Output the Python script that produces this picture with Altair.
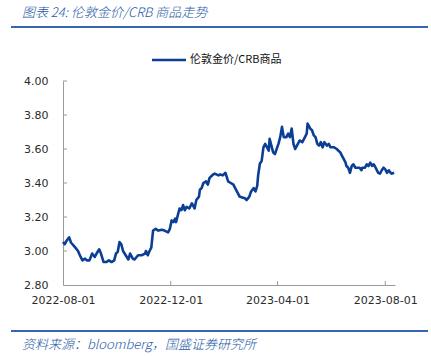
import altair as alt
import pandas as pd

title_text = "图表 24: 伦敦金价/CRB 商品走势"
source_text = "资料来源：bloomberg，国盛证券研究所"
series_name = "伦敦金价/CRB商品"

dates = [
    "2022-08-01", "2022-08-03", "2022-08-05", "2022-08-08", "2022-08-10", "2022-08-15",
    "2022-08-18", "2022-08-21", "2022-08-23", "2022-08-26", "2022-08-28", "2022-08-31",
    "2022-09-03", "2022-09-06", "2022-09-08", "2022-09-11", "2022-09-13", "2022-09-16",
    "2022-09-19", "2022-09-22", "2022-09-25", "2022-09-28", "2022-09-30", "2022-10-02",
    "2022-10-04", "2022-10-06", "2022-10-08", "2022-10-11", "2022-10-14", "2022-10-16",
    "2022-10-19", "2022-10-21", "2022-10-25", "2022-10-29", "2022-11-02", "2022-11-03",
    "2022-11-05", "2022-11-07", "2022-11-09", "2022-11-11", "2022-11-14", "2022-11-17",
    "2022-11-21", "2022-11-24", "2022-11-28", "2022-11-30", "2022-12-02", "2022-12-04",
    "2022-12-06", "2022-12-07", "2022-12-11", "2022-12-13", "2022-12-15", "2022-12-17",
    "2022-12-19", "2022-12-22", "2022-12-25", "2022-12-28", "2022-12-30", "2023-01-02",
    "2023-01-03", "2023-01-05", "2023-01-07", "2023-01-10", "2023-01-12", "2023-01-14",
    "2023-01-18", "2023-01-20", "2023-01-24", "2023-01-26", "2023-01-29", "2023-02-01",
    "2023-02-04", "2023-02-07", "2023-02-10", "2023-02-13", "2023-02-15", "2023-02-17",
    "2023-02-20", "2023-02-23", "2023-02-25", "2023-02-28", "2023-03-02", "2023-03-05",
    "2023-03-07", "2023-03-09", "2023-03-10", "2023-03-12", "2023-03-14", "2023-03-16",
    "2023-03-18", "2023-03-20", "2023-03-22", "2023-03-23", "2023-03-25", "2023-03-27",
    "2023-03-29", "2023-04-02", "2023-04-04", "2023-04-06", "2023-04-08", "2023-04-11",
    "2023-04-13", "2023-04-15", "2023-04-17", "2023-04-19", "2023-04-21", "2023-04-24",
    "2023-04-26", "2023-04-29", "2023-05-01", "2023-05-04", "2023-05-05", "2023-05-08",
    "2023-05-10", "2023-05-12", "2023-05-14", "2023-05-16", "2023-05-18", "2023-05-20",
    "2023-05-22", "2023-05-24", "2023-05-27", "2023-05-29", "2023-05-31", "2023-06-04",
    "2023-06-07", "2023-06-09", "2023-06-11", "2023-06-13", "2023-06-15", "2023-06-17",
    "2023-06-18", "2023-06-20", "2023-06-22", "2023-06-24", "2023-06-26", "2023-06-28",
    "2023-07-01", "2023-07-03", "2023-07-05", "2023-07-06", "2023-07-09", "2023-07-11",
    "2023-07-13", "2023-07-15", "2023-07-17", "2023-07-19", "2023-07-21", "2023-07-22",
    "2023-07-24", "2023-07-26", "2023-07-28", "2023-07-30", "2023-08-01", "2023-08-03",
    "2023-08-05", "2023-08-07", "2023-08-08", "2023-08-11",
]

values = [
    3.053, 3.04, 3.06, 3.08, 3.05, 3.02,
    3.00, 2.965, 2.945, 2.955, 2.945, 2.945,
    2.985, 2.965, 2.985, 3.01, 2.985, 2.935,
    2.935, 2.945, 2.935, 2.945, 2.985, 2.995,
    3.053, 3.04, 3.00, 2.975, 2.95, 2.985,
    2.955, 2.95, 2.975, 2.975, 2.985, 3.00,
    2.975, 3.00, 3.02, 3.12, 3.13, 3.12,
    3.125, 3.12, 3.11, 3.13, 3.18, 3.17,
    3.19, 3.17, 3.25, 3.24, 3.27, 3.24,
    3.26, 3.25, 3.28, 3.25, 3.30, 3.32,
    3.36, 3.37, 3.40, 3.41, 3.39, 3.43,
    3.45, 3.455, 3.445, 3.45, 3.445, 3.46,
    3.41, 3.40, 3.39, 3.36, 3.34, 3.32,
    3.315, 3.31, 3.30, 3.32, 3.35, 3.37,
    3.35, 3.385, 3.445, 3.515, 3.53, 3.61,
    3.63, 3.61, 3.59, 3.66, 3.62, 3.58,
    3.57, 3.63, 3.67, 3.73, 3.67, 3.67,
    3.69, 3.67, 3.72, 3.63, 3.60, 3.63,
    3.65, 3.64, 3.66, 3.69, 3.75, 3.72,
    3.71, 3.68, 3.67, 3.63, 3.62, 3.64,
    3.61, 3.64, 3.62, 3.63, 3.61, 3.61,
    3.60, 3.59, 3.58, 3.56, 3.54, 3.52,
    3.50, 3.49, 3.46, 3.50, 3.51, 3.49,
    3.49, 3.49, 3.475, 3.49, 3.49, 3.51,
    3.50, 3.52, 3.50, 3.51, 3.49, 3.48,
    3.46, 3.455, 3.475, 3.49, 3.48, 3.46,
    3.475, 3.46, 3.455, 3.46,
]

y_ticks = [2.8, 3.0, 3.2, 3.4, 3.6, 3.8, 4.0]
x_ticks = ["2022-08-01", "2022-12-01", "2023-04-01", "2023-08-01"]
x_domain = ["2022-08-01", "2023-08-12"]
y_domain = [2.8, 4.0]

LINE_BLUE = "#0b3f95"
TITLE_BLUE = "#2457a6"
RULE_BLUE = "#3766b0"
AXIS_GRAY = "#9a9a9a"
LABEL_COLOR = "#2b2b2b"
CJK = "Noto Sans CJK SC"
LATIN = "DejaVu Sans"


def dt(s):
    y, m, d = (int(p) for p in s.split("-"))
    return alt.DateTime(year=y, month=m, date=d)


df = pd.DataFrame({"date": pd.to_datetime(dates), "value": values})
xtick_df = pd.DataFrame({"date": pd.to_datetime(x_ticks[1:])})
ytick_df = pd.DataFrame({"value": y_ticks[1:]})

x_scale = alt.Scale(domain=[dt(x_domain[0]), dt(x_domain[1])], nice=False)
y_scale = alt.Scale(domain=y_domain, nice=False, zero=False)

x_axis = alt.Axis(
    title=None,
    values=[dt(t) for t in x_ticks],
    format="%Y-%m-%d",
    ticks=False,
    tickSize=0,
    grid=False,
    domainColor=AXIS_GRAY,
    labelFont=LATIN,
    labelFontSize=11,
    labelColor=LABEL_COLOR,
    labelPadding=9,
    labelOverlap=False,
    labelFlush=False,
)
y_axis = alt.Axis(
    title=None,
    values=y_ticks,
    format=".2f",
    ticks=False,
    tickSize=0,
    grid=False,
    domainColor=AXIS_GRAY,
    labelFont=LATIN,
    labelFontSize=11,
    labelColor=LABEL_COLOR,
    labelPadding=15,
    labelOverlap=False,
    labelFlush=False,
)

x_enc = alt.X("date:T", scale=x_scale, axis=x_axis)
y_enc = alt.Y("value:Q", scale=y_scale, axis=y_axis)

line = alt.Chart(df).mark_line(color=LINE_BLUE, strokeWidth=2.6, strokeJoin="round").encode(
    x=x_enc, y=y_enc
)

ytick_rules = alt.Chart(ytick_df).mark_rule(color=AXIS_GRAY, strokeWidth=1).encode(
    y=y_enc, x=alt.value(0), x2=alt.value(4)
)

xtick_rules = alt.Chart(xtick_df).mark_rule(color=AXIS_GRAY, strokeWidth=1).encode(
    x=x_enc, y=alt.value(200), y2=alt.value(204)
)

one = pd.DataFrame({"k": [0]})

legend_line = alt.Chart(one).mark_rule(color=LINE_BLUE, strokeWidth=2.6).encode(
    x=alt.value(89), x2=alt.value(123), y=alt.value(-21)
)
legend_text = alt.Chart(one).mark_text(
    font=CJK, fontSize=11, color="#111111", align="left", baseline="middle"
).encode(x=alt.value(127), y=alt.value(-21), text=alt.value(series_name))

title_mark = alt.Chart(one).mark_text(
    font=CJK, fontSize=13, fontStyle="italic", fontWeight=300, color=TITLE_BLUE,
    align="left", baseline="middle"
).encode(x=alt.value(-41), y=alt.value(-68), text=alt.value(title_text))

title_rule = alt.Chart(one).mark_rule(color=RULE_BLUE, strokeWidth=2).encode(
    x=alt.value(-52), x2=alt.value(365), y=alt.value(-54)
)

footer_rule = alt.Chart(one).mark_rule(color=RULE_BLUE, strokeWidth=2).encode(
    x=alt.value(-52), x2=alt.value(365), y=alt.value(250)
)

footer_mark = alt.Chart(one).mark_text(
    font=CJK, fontSize=13, fontStyle="italic", fontWeight=300, color=TITLE_BLUE,
    align="left", baseline="middle"
).encode(x=alt.value(-41), y=alt.value(264), text=alt.value(source_text))

chart = alt.layer(
    line, ytick_rules, xtick_rules, legend_line, legend_text,
    title_mark, title_rule, footer_rule, footer_mark,
).properties(
    width=332,
    height=204,
    autosize=alt.AutoSizeParams(type="none"),
    padding={"left": 63, "top": 81, "right": 36, "bottom": 71},
    background="white",
).configure_view(stroke=None)

chart.save("out.html", embed_options={"renderer": "svg", "actions": False})
